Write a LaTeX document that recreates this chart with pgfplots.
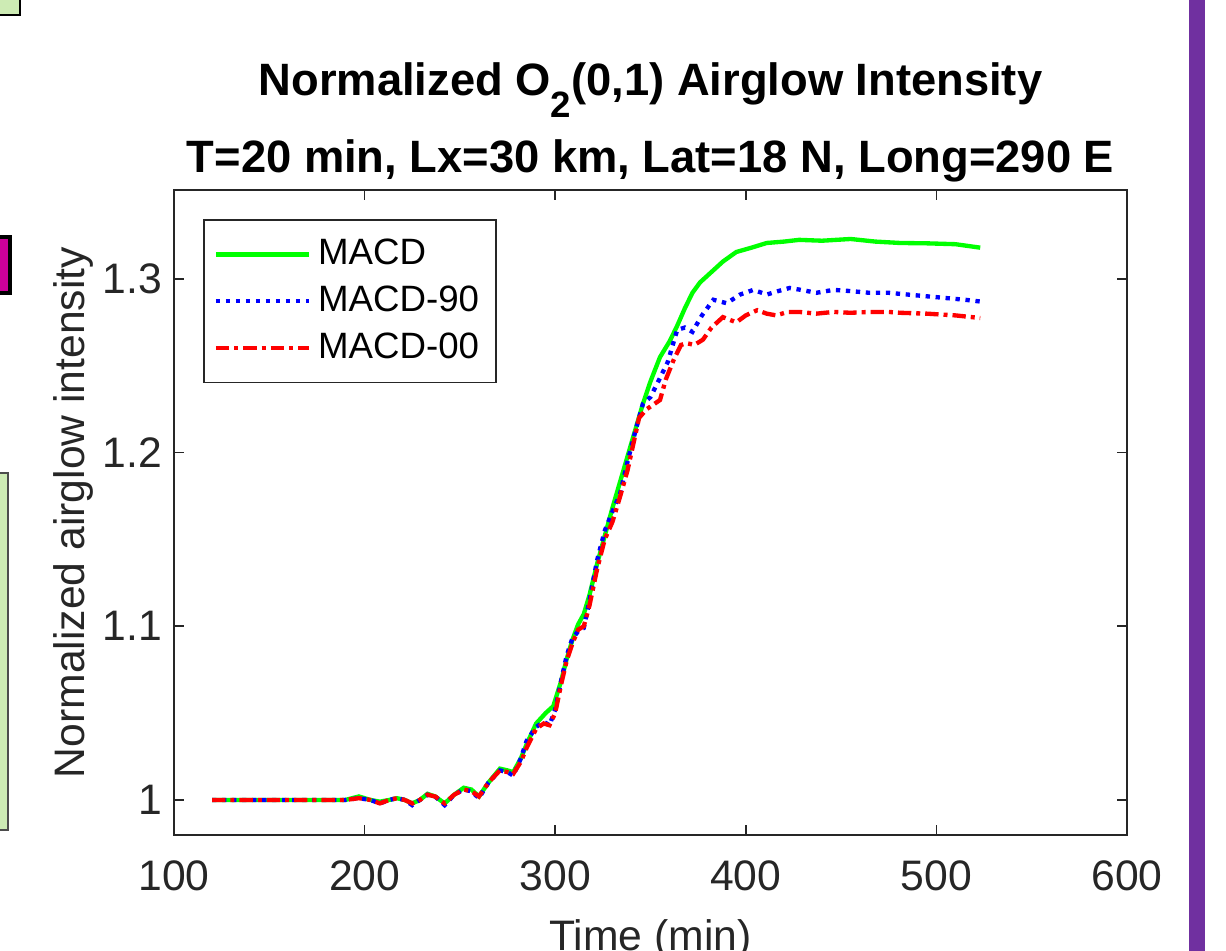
\documentclass[border=0pt]{standalone}
\usepackage{pgfplots}
\pgfplotsset{compat=1.18}
\usepackage{fontspec}
\setmainfont{Liberation Sans}
\definecolor{axgray}{RGB}{38,38,38}
\definecolor{mgreen}{RGB}{0,255,0}
\definecolor{mblue}{RGB}{0,0,255}
\definecolor{mred}{RGB}{255,0,0}
\definecolor{barpurple}{RGB}{112,48,160}
\definecolor{boxgreen}{RGB}{205,235,180}
\definecolor{boxmag}{RGB}{204,0,153}
\begin{document}
\begin{tikzpicture}
\path[use as bounding box] (0,0) rectangle (367.8pt,285pt);
\fill[white] (0,0) rectangle (367.8pt,285pt);
% screenshot decorations
\filldraw[fill=boxgreen, draw=black, line width=0.5pt] (-2pt,280.5pt) rectangle (6pt,290pt);
\filldraw[fill=boxmag, draw=black, line width=1pt] (-2pt,197.1pt) rectangle (3pt,213.9pt);
\filldraw[fill=boxgreen, draw=black!70, line width=0.4pt] (-2pt,36pt) rectangle (2.4pt,143.1pt);
\fill[barpurple] (356.7pt,-2pt) rectangle (361.5pt,290pt);
\begin{axis}[name=ax,
  at={(52.2pt,34.5pt)}, anchor=south west,
  scale only axis, width=285.9pt, height=193.5pt,
  xmin=100, xmax=600, ymin=0.9798, ymax=1.3512,
  xtick={100,200,300,400,500,600},
  ytick={1,1.1,1.2,1.3}, yticklabels={1,1.1,1.2,1.3},
  tick align=inside, xtick pos=both, ytick pos=both,
  major tick length=3pt,
  axis line style={axgray, line width=0.5pt},
  tick style={axgray, line width=0.5pt},
  ticklabel style={font=\fontsize{12.8}{14}\selectfont, text=axgray},
  xticklabel style={yshift=-4.3pt},
  /pgf/number format/assume math mode=true,
  xlabel={Time (min)}, ylabel={Normalized airglow intensity},
  label style={font=\fontsize{12.8}{15}\selectfont, text=axgray},
  xlabel style={at={(axis description cs:0.5,0)}, anchor=north, yshift=-21.8pt},
  ylabel style={at={(axis description cs:-0.072,0.5)}, anchor=south, rotate=0},
  legend cell align=left,
  legend style={at={(0.0304,0.955)}, anchor=north west, draw=axgray, line width=0.5pt,
    font=\fontsize{11}{13}\selectfont, text=black, row sep=0.8pt, inner xsep=3pt, inner ysep=3.8pt,
    nodes={inner xsep=2pt}},
  legend image code/.code={\draw[#1] (0pt,0pt) -- (28pt,0pt);},
]
\addplot[mgreen, line width=1.3pt] coordinates {
(120,1.000)(130,1.000)(140,1.000)(150,1.000)(160,1.000)(170,1.000)(180,1.000)(190,1.000)(197,1.002)(203,1.000)(208,0.999)(213,1.000)(217,1.001)(221,1.000)(225,0.998)(229,1.000)(233,1.0035)(237,1.002)(242,0.998)(247,1.003)(252,1.007)(256,1.006)(260,1.002)(265,1.010)(271,1.018)(275,1.017)(278,1.016)(282,1.024)(285,1.032)(290,1.044)(295,1.050)(299,1.054)(303,1.068)(306,1.081)(309,1.092)(312,1.101)(315,1.107)(318,1.118)(322,1.136)(326,1.152)(330,1.168)(334,1.183)(338,1.198)(342,1.213)(346,1.228)(350,1.241)(355,1.255)(360,1.264)(364,1.273)(368,1.283)(372,1.292)(376,1.298)(381,1.303)(388,1.310)(395,1.3155)(403,1.318)(411,1.3207)(420,1.3215)(428,1.3225)(440,1.322)(455,1.323)(468,1.3215)(481,1.3207)(495,1.3205)(510,1.320)(523,1.318)
};
\addlegendentry{MACD}
\addplot[mblue, line width=1.3pt, dash pattern=on 1.3pt off 1.7pt] coordinates {
(120,1.000)(130,1.000)(140,1.000)(150,1.000)(160,1.000)(170,1.000)(180,1.000)(190,1.000)(197,1.001)(203,1.000)(208,0.998)(213,1.000)(217,1.001)(221,1.000)(225,0.997)(229,1.000)(233,1.003)(237,1.002)(242,0.997)(247,1.003)(252,1.006)(256,1.005)(260,1.001)(265,1.010)(271,1.017)(275,1.016)(278,1.014)(282,1.024)(285,1.034)(290,1.042)(294,1.045)(297,1.043)(300,1.052)(303,1.068)(306,1.083)(309,1.093)(312,1.097)(315,1.099)(318,1.115)(322,1.138)(326,1.155)(330,1.166)(334,1.176)(338,1.195)(342,1.212)(346,1.228)(350,1.232)(355,1.243)(359,1.252)(364,1.2706)(368,1.272)(372,1.2695)(377,1.279)(383,1.288)(390,1.286)(397,1.291)(404,1.2937)(411,1.291)(417,1.293)(423,1.2948)(430,1.2935)(437,1.292)(446,1.2937)(455,1.293)(465,1.292)(475,1.292)(485,1.291)(495,1.290)(505,1.289)(515,1.288)(523,1.287)
};
\addlegendentry{MACD-90}
\addplot[mred, line width=1.3pt, dash pattern=on 4pt off 1.5pt on 1.2pt off 1.5pt] coordinates {
(120,1.000)(130,1.000)(140,1.000)(150,1.000)(160,1.000)(170,1.000)(180,1.000)(190,1.000)(197,1.001)(203,1.000)(208,0.998)(213,1.000)(217,1.001)(221,1.000)(225,0.998)(229,1.000)(233,1.003)(237,1.002)(242,0.998)(247,1.003)(252,1.006)(256,1.005)(260,1.002)(265,1.010)(271,1.017)(275,1.016)(278,1.015)(282,1.022)(285,1.030)(290,1.041)(294,1.044)(297,1.043)(300,1.050)(303,1.066)(306,1.080)(309,1.090)(312,1.098)(315,1.100)(318,1.112)(322,1.133)(326,1.150)(330,1.160)(334,1.1745)(338,1.190)(341,1.205)(344,1.220)(348,1.225)(352,1.228)(355,1.2303)(358,1.242)(362,1.253)(366,1.262)(369,1.263)(373,1.262)(377.5,1.265)(382,1.272)(388,1.278)(395,1.275)(400,1.279)(406,1.282)(411,1.280)(416,1.279)(422,1.281)(428,1.281)(437,1.280)(446,1.281)(455,1.2805)(465,1.281)(475,1.281)(481,1.2805)(495,1.280)(510,1.279)(523,1.2775)
};
\addlegendentry{MACD-00}
\end{axis}
\node[anchor=base, font=\bfseries\fontsize{13.6}{16}\selectfont, text=black] at ([yshift=5.4pt]ax.north) {T=20 min, Lx=30 km, Lat=18 N, Long=290 E};
\node[anchor=base, font=\bfseries\fontsize{13.6}{16}\selectfont, text=black] at ([yshift=28.5pt]ax.north) {Normalized O\raisebox{-0.5em}{\fontsize{11}{11}\selectfont 2}(0,1) Airglow Intensity};
\end{tikzpicture}
\end{document}
